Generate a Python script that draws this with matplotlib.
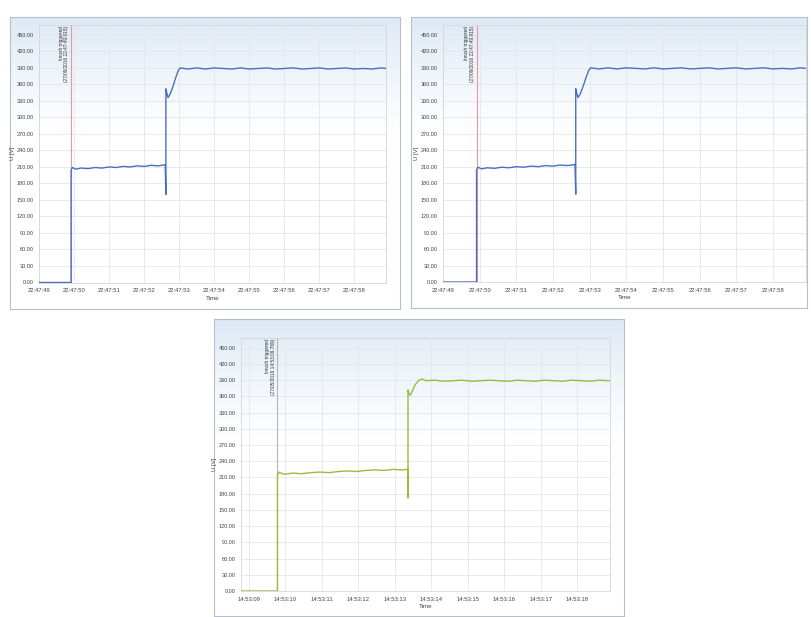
import numpy as np
import matplotlib.pyplot as plt

plt.rcParams['font.family'] = ['Liberation Sans', 'DejaVu Sans']

# данные: время (секунды внутри минуты) и напряжение U [V]
top_time = [49.00, 49.915, 49.915, 49.95, 50.05, 50.20, 50.40, 50.60, 50.80, 51.00,
            51.20, 51.40, 51.60, 51.80, 52.00, 52.20, 52.40, 52.60, 52.62, 52.62,
            52.64, 52.68, 52.74, 52.82, 52.90, 52.97, 53.03,
            53.25, 53.50, 53.75, 54.00, 54.25, 54.50, 54.75, 55.00, 55.25, 55.50,
            55.75, 56.00, 56.25, 56.50, 56.75, 57.00, 57.25, 57.50, 57.75, 58.00,
            58.25, 58.50, 58.75, 58.90]
top_volt = [0, 0, 204, 209, 206, 208, 207, 209, 208, 210,
            209, 211, 210, 212, 211, 213, 212, 214, 160, 352,
            346, 336, 342, 356, 372, 385, 390,
            388, 390, 388, 390, 389, 388, 390, 388, 389, 390,
            388, 389, 390, 388, 389, 390, 388, 389, 390, 388,
            389, 388, 390, 389]

bot_time = [8.78, 9.78, 9.78, 9.82, 9.95, 10.20, 10.45, 10.70, 10.95, 11.20,
            11.45, 11.70, 11.95, 12.20, 12.45, 12.70, 12.95, 13.20, 13.35, 13.36,
            13.36, 13.38, 13.42, 13.48, 13.56, 13.66, 13.75, 13.85,
            14.10, 14.35, 14.60, 14.85, 15.10, 15.35, 15.60, 15.85, 16.10, 16.35,
            16.60, 16.85, 17.10, 17.35, 17.60, 17.85, 18.10, 18.35, 18.60, 18.85,
            18.90]
bot_volt = [0, 0, 214, 220, 216, 218, 217, 219, 220, 219,
            221, 222, 221, 223, 224, 223, 225, 224, 225, 172,
            372, 366, 362, 370, 382, 390, 392, 389,
            390, 388, 389, 390, 388, 389, 390, 389, 388, 390,
            389, 388, 390, 389, 388, 390, 389, 388, 390, 389,
            389]

top_ticks = list(range(49, 59))
bot_ticks = list(range(9, 19))
y_ticks = list(range(0, 451, 30))

W, H = 811, 617


def rect(x0, y0, x1, y1):
    # пиксели (сверху-вниз) -> доли фигуры
    return [x0 / W, 1 - y1 / H, (x1 - x0) / W, (y1 - y0) / H]


fig = plt.figure(figsize=(W / 100, H / 100), dpi=100)


def panel(frame, area, t, v, ticks, prefix, xlim, trig, note, color, trig_color):
    # фон окна с градиентом
    bg = fig.add_axes(rect(*frame), zorder=0)
    grad = np.linspace(0, 1, 256).reshape(-1, 1)
    top_c = np.array([0.86, 0.91, 0.96])
    cols = top_c + (1 - top_c) * np.clip(grad / 0.4, 0, 1) ** 0.8
    img = np.repeat(cols[:, None, :], 2, axis=1)
    bg.imshow(img, aspect='auto', extent=[0, 1, 0, 1], origin='upper')
    bg.set_xlim(0, 1)
    bg.set_ylim(0, 1)
    bg.set_xticks([])
    bg.set_yticks([])
    for s in bg.spines.values():
        s.set_color('#b9bfc6')
        s.set_linewidth(0.8)

    ax = fig.add_axes(rect(*area), zorder=1)
    ax.patch.set_alpha(0)
    ax.plot(t, v, color=color, lw=1.0, zorder=3)
    ax.axvline(trig, color=trig_color, lw=0.8, zorder=2)
    ax.text(trig - 0.05, 466, note, rotation=90, ha='right', va='top',
            multialignment='right', fontsize=3.4, color='#333333')
    ax.set_xlim(*xlim)
    ax.set_ylim(0, 468)
    ax.set_yticks(y_ticks)
    ax.set_yticklabels(['%.2f' % y for y in y_ticks])
    ax.set_xticks(ticks)
    ax.set_xticklabels([prefix + '%02d' % s for s in ticks])
    ax.grid(True, color='#e4e6ea', lw=0.6)
    ax.set_axisbelow(True)
    ax.tick_params(axis='y', length=0, labelsize=4.0, colors='#444444', pad=4)
    ax.tick_params(axis='x', length=0, labelsize=4.2, colors='#444444', pad=4)
    for s in ax.spines.values():
        s.set_color('#d3d6da')
        s.set_linewidth(0.6)
    # подписи осей
    x0, y0, x1, y1 = area
    fig.text((x0 - 29) / W, 1 - (y0 + y1) / 2 / H, 'U [V]', rotation=90,
             ha='left', va='center', fontsize=4.3, color='#444444')
    ax.set_xlabel('Time', fontsize=4.5, color='#444444', labelpad=2)


blue = '#4a70bd'
green = '#9cba3c'

panel((10, 17, 400, 309), (39, 25, 386, 282.5), top_time, top_volt, top_ticks,
      '22:47:', (49.0, 58.9), 49.915,
      'Inrush triggered\n(27/09/2016 22:47:49.915)', blue, '#e89a9a')
panel((411, 17, 807, 308), (443, 25, 806, 282), top_time, top_volt, top_ticks,
      '22:47:', (49.0, 58.9), 49.915,
      'Inrush triggered\n(27/09/2016 22:47:49.915)', blue, '#e89a9a')
panel((214, 319, 624, 616), (241, 338, 610, 591), bot_time, bot_volt, bot_ticks,
      '14:53:', (8.78, 18.9), 9.78,
      'Inrush triggered\n(27/05/2016 14:53:09.789)', green, '#b5b5b5')

fig.savefig('out.png', dpi=100)
